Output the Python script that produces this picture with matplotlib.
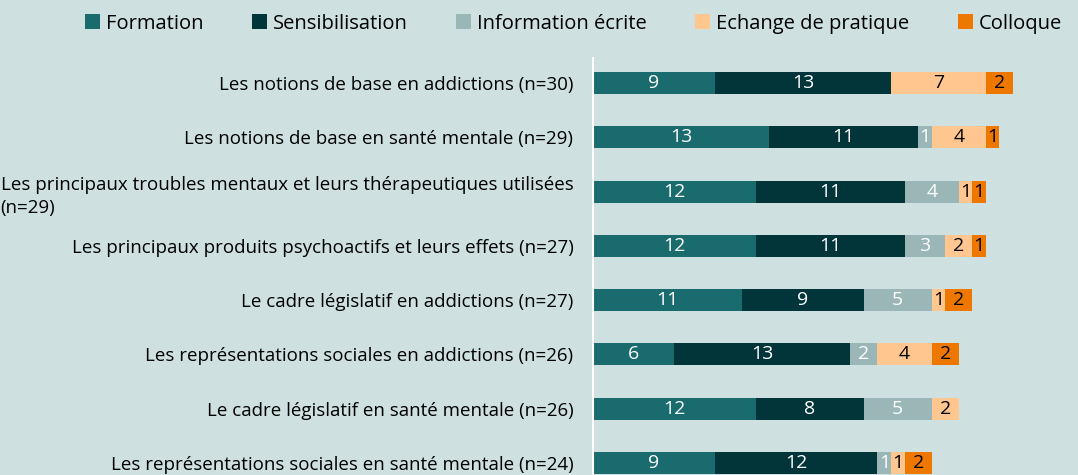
import numpy as np
import matplotlib.pyplot as plt
from matplotlib.patches import Patch

plt.rcParams['font.family'] = ['Open Sans', 'DejaVu Sans']

# themes (top to bottom)
themes = [
    "Les notions de base en addictions (n=30)",
    "Les notions de base en santé mentale (n=29)",
    "Les principaux troubles mentaux et leurs thérapeutiques utilisées\n(n=29)",
    "Les principaux produits psychoactifs et leurs effets (n=27)",
    "Le cadre législatif en addictions (n=27)",
    "Les représentations sociales en addictions (n=26)",
    "Le cadre législatif en santé mentale (n=26)",
    "Les représentations sociales en santé mentale (n=24)",
]

series = ["Formation", "Sensibilisation", "Information écrite", "Echange de pratique", "Colloque"]
formation = [9, 13, 12, 12, 11, 6, 12, 9]
sensibilisation = [13, 11, 11, 11, 9, 13, 8, 12]
information = [0, 1, 4, 3, 5, 2, 5, 1]
echange = [7, 4, 1, 2, 1, 4, 2, 1]
colloque = [2, 1, 1, 1, 2, 2, 0, 2]

colors = ["#1a6b6e", "#023539", "#9bb6b6", "#ffc68f", "#ee7700"]
text_colors = ["white", "white", "white", "black", "black"]
bg = "#cfe0e0"

fig = plt.figure(figsize=(10.78, 4.75), dpi=100, facecolor=bg)
ax = fig.add_axes([0.550, 0.0, 0.4425, 0.878])
ax.set_facecolor(bg)

y = np.arange(len(themes))
left = np.zeros(len(themes))
for vals, col, tcol in zip([formation, sensibilisation, information, echange, colloque], colors, text_colors):
    vals = np.array(vals)
    ax.barh(y, vals, left=left, height=0.405, color=col)
    for yi, l, v in zip(y, left, vals):
        if v > 0:
            ax.text(l + v / 2, yi, str(v), ha='center', va='center', color=tcol, fontsize=14)
    left += vals

ax.set_xlim(0, 35.2)
ax.set_ylim(7.22, -0.46)
ax.set_xticks([])
ax.set_yticks(y)
ax.set_yticklabels(themes, fontsize=13.5, multialignment='left', linespacing=1.4)
ax.tick_params(axis='y', length=0, pad=14)
for s in ['top', 'right', 'bottom']:
    ax.spines[s].set_visible(False)
ax.spines['left'].set_color('white')
ax.spines['left'].set_linewidth(1.5)

handles = [Patch(facecolor=c) for c in colors]
fig.legend(handles, series, loc='center', bbox_to_anchor=(0.532, 0.95), ncol=5, frameon=False,
           fontsize=14.5, handlelength=0.75, handleheight=0.75, handletextpad=0.3, columnspacing=2.4)

fig.savefig("out.png", dpi=100, facecolor=bg)
